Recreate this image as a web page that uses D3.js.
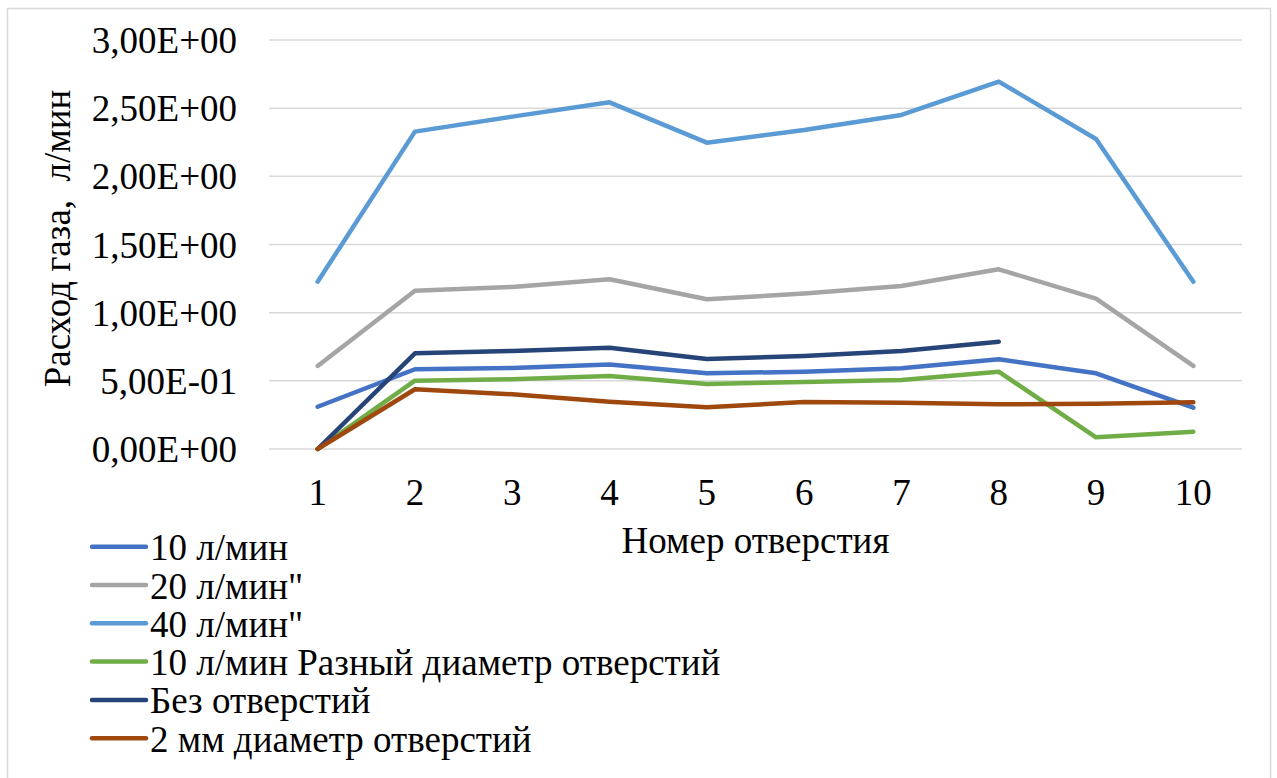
<!DOCTYPE html>
<html>
<head>
<meta charset="utf-8">
<script src="https://cdn.jsdelivr.net/npm/d3@7"></script>
<style>
  html, body { margin: 0; padding: 0; background: #fff; }
  svg { display: block; }
</style>
</head>
<body>
<svg id="chart" width="1277" height="778"></svg>
<script>
// Hole numbers along the x axis
const holes = ["1", "2", "3", "4", "5", "6", "7", "8", "9", "10"];

// Gas flow per hole, l/min
const flow10 = [0.310, 0.585, 0.594, 0.619, 0.555, 0.567, 0.592, 0.658, 0.555, 0.303];
const flow20 = [0.609, 1.161, 1.189, 1.245, 1.098, 1.140, 1.196, 1.318, 1.103, 0.609];
const flow40 = [1.227, 2.328, 2.438, 2.543, 2.247, 2.340, 2.450, 2.695, 2.274, 1.227];
const flow10VarDiam = [0.000, 0.501, 0.511, 0.536, 0.477, 0.492, 0.506, 0.567, 0.086, 0.127];
const noHoles = [0.000, 0.702, 0.719, 0.743, 0.660, 0.682, 0.719, 0.787, null, null];
const diam2mm = [0.000, 0.438, 0.401, 0.347, 0.306, 0.345, 0.340, 0.328, 0.332, 0.343];

const seriesNames = [
  "10 л/мин",
  "20 л/мин\"",
  "40 л/мин\"",
  "10 л/мин Разный диаметр отверстий",
  "Без отверстий",
  "2 мм диаметр отверстий"
];
const seriesValues = [flow10, flow20, flow40, flow10VarDiam, noHoles, diam2mm];
const seriesColors = ["#4472C4", "#A5A5A5", "#5B9BD5", "#70AD47", "#264478", "#9E480E"];

const yTicks = [0, 0.5, 1.0, 1.5, 2.0, 2.5, 3.0];

const FONT = "'Liberation Serif', 'Times New Roman', Times, 'DejaVu Serif', serif";

const svg = d3.select("#chart");

// Chart frame
svg.append("rect")
  .attr("x", 7.5).attr("y", 8.5)
  .attr("width", 1263).attr("height", 800)
  .attr("fill", "#fff")
  .attr("stroke", "#D9D9D9")
  .attr("stroke-width", 1.5);

const plot = { left: 269, right: 1242, top: 40, bottom: 449 };

const x = d3.scaleBand().domain(holes).range([plot.left, plot.right]);
const y = d3.scaleLinear().domain([0, 3]).range([plot.bottom, plot.top]);

const fmt = v => {
  const s = v.toExponential(2).replace(".", ",");
  return s.replace(/e([+-])(\d)$/, "E$10$2").replace(/e([+-])(\d\d)$/, "E$1$2");
};

// Horizontal gridlines
svg.append("g")
  .selectAll("line")
  .data(yTicks)
  .join("line")
  .attr("x1", plot.left).attr("x2", plot.right)
  .attr("y1", d => y(d)).attr("y2", d => y(d))
  .attr("stroke", "#D9D9D9")
  .attr("stroke-width", 1.5);

// Y axis labels
const yAxis = svg.append("g")
  .attr("transform", `translate(${plot.left - 32},0)`)
  .call(d3.axisLeft(y).tickValues(yTicks).tickFormat(fmt).tickSize(0).tickPadding(0));
yAxis.attr("font-family", null).attr("font-size", null);
yAxis.select(".domain").remove();
yAxis.selectAll("text")
  .style("font-family", FONT)
  .style("font-size", "37px")
  .attr("dy", "0.34em")
  .attr("fill", "#000");

// X axis labels
const xAxis = svg.append("g")
  .attr("transform", `translate(0,${plot.bottom})`)
  .call(d3.axisBottom(x).tickSize(0).tickPadding(0));
xAxis.attr("font-family", null).attr("font-size", null);
xAxis.select(".domain").remove();
xAxis.selectAll("text")
  .style("font-family", FONT)
  .style("font-size", "37px")
  .attr("y", 56)
  .attr("dy", 0)
  .attr("fill", "#000");

// Axis titles
svg.append("text")
  .attr("x", (plot.left + plot.right) / 2)
  .attr("y", 553)
  .attr("text-anchor", "middle")
  .style("font-family", FONT)
  .style("font-size", "37px")
  .text("Номер отверстия");

svg.append("text")
  .attr("transform", `translate(70,${(plot.top + plot.bottom) / 2 - 6}) rotate(-90)`)
  .attr("text-anchor", "middle")
  .style("font-family", FONT)
  .style("font-size", "37px")
  .style("white-space", "pre")
  .text("Расход газа,  л/мин");

// Series lines
const line = d3.line()
  .defined(d => d != null)
  .x((d, i) => x(holes[i]) + x.bandwidth() / 2)
  .y(d => y(d));

svg.append("g")
  .selectAll("path")
  .data(seriesValues)
  .join("path")
  .attr("d", d => line(d))
  .attr("fill", "none")
  .attr("stroke", (d, i) => seriesColors[i])
  .attr("stroke-width", 4.5)
  .attr("stroke-linecap", "round")
  .attr("stroke-linejoin", "round");

// Legend
const legend = svg.append("g");
const rows = legend.selectAll("g")
  .data(seriesNames)
  .join("g")
  .attr("transform", (d, i) => `translate(92,${546.7 + i * 38.3})`);
rows.append("line")
  .attr("x1", 0).attr("x2", 54)
  .attr("stroke", (d, i) => seriesColors[i])
  .attr("stroke-width", 4.5)
  .attr("stroke-linecap", "round");
rows.append("text")
  .attr("x", 58)
  .attr("y", 13.5)
  .style("font-family", FONT)
  .style("font-size", "37px")
  .text(d => d);
</script>
</body>
</html>
